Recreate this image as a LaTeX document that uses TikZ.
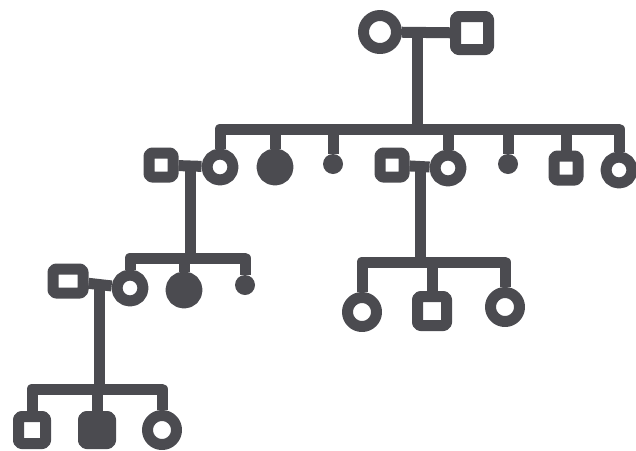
\documentclass[tikz,border=0pt]{standalone}
\usepackage{tikz}
\usetikzlibrary{calc}
\definecolor{ink}{HTML}{4B4B50}

\begin{document}
\begin{tikzpicture}[x=1pt, y=-1pt,
  pen/.style={draw=ink, line width=11pt, line join=round},
  fem/.style={pen, circle, minimum size=26pt, inner sep=0pt},
  mal/.style={pen, rectangle, rounded corners=3pt, minimum size=24pt, inner sep=0pt},
  aff/.style={fill=ink},
  lost/.style={circle, fill=ink, minimum size=20pt, inner sep=0pt}]
\useasboundingbox (0,0) rectangle (636,450);
% generation I
\node[fem, minimum size=33pt] (g1f) at (380,32) {};
\node[mal, minimum size=33pt] (g1m) at (472,33) {};
\draw[pen] (g1f) -- (g1m);
\coordinate (m1) at ($(g1f)!0.41!(g1m)$);
\coordinate (sibII) at (418,129);
\draw[pen] (m1) -- (m1 |- sibII);
% generation II: children and the two who married in
\node[fem] (a1) at (220,167) {};
\node[fem, aff] (a2) at (275,167) {};
\node[lost] (a3) at (333,164) {};
\node[fem] (a4) at (448,168) {};
\node[lost] (a5) at (508,164) {};
\node[mal] (a6) at (566,168) {};
\node[fem] (a7) at (619,170) {};
\node[mal] (sp1) at (161,165) {};
\node[mal] (sp2) at (392,165) {};
\draw[pen] (a1.north) |- (sibII) -| (a7.north);
\foreach \k in {a2,a3,a4,a5,a6}
  \draw[pen] (\k.north) -- (\k.north |- sibII);
\draw[pen] (sp1) -- (a1);
\draw[pen] (sp2) -- (a4);
\coordinate (m2) at ($(sp1)!0.5!(a1)$);
\coordinate (m3) at ($(sp2)!0.5!(a4)$);
% generation III, left family
\coordinate (sibIIIa) at (195,258);
\node[fem] (b1) at (130,288) {};
\node[fem, aff] (b2) at (184,290) {};
\node[lost] (b3) at (245,285) {};
\node[mal, minimum width=30pt] (sp3) at (68,281) {};
\draw[pen] (m2) -- (m2 |- sibIIIa);
\draw[pen] (b1.north) |- (sibIIIa) -| (b3.north);
\draw[pen] (b2.north) -- (b2.north |- sibIIIa);
\draw[pen] (sp3) -- (b1);
\coordinate (m4) at ($(sp3)!0.5!(b1)$);
% generation III, right family
\coordinate (sibIIIb) at (420,262);
\node[fem, minimum size=29pt] (c1) at (362,312) {};
\node[mal, minimum size=29pt] (c2) at (432,311) {};
\node[fem, minimum size=29pt] (c3) at (505,307) {};
\draw[pen] (m3) -- (m3 |- sibIIIb);
\draw[pen] (c1.north) |- (sibIIIb) -| (c3.north);
\draw[pen] (c2.north) -- (c2.north |- sibIIIb);
% generation IV
\coordinate (sibIV) at (98,389);
\node[mal, minimum size=27pt] (d1) at (32,430) {};
\node[mal, minimum size=27pt, aff] (d2) at (97,430) {};
\node[fem, minimum size=29pt] (d3) at (162,430) {};
\draw[pen] (m4) -- (m4 |- sibIV);
\draw[pen] (d1.north) |- (sibIV) -| (d3.north);
\draw[pen] (d2.north) -- (d2.north |- sibIV);
\end{tikzpicture}
\end{document}
